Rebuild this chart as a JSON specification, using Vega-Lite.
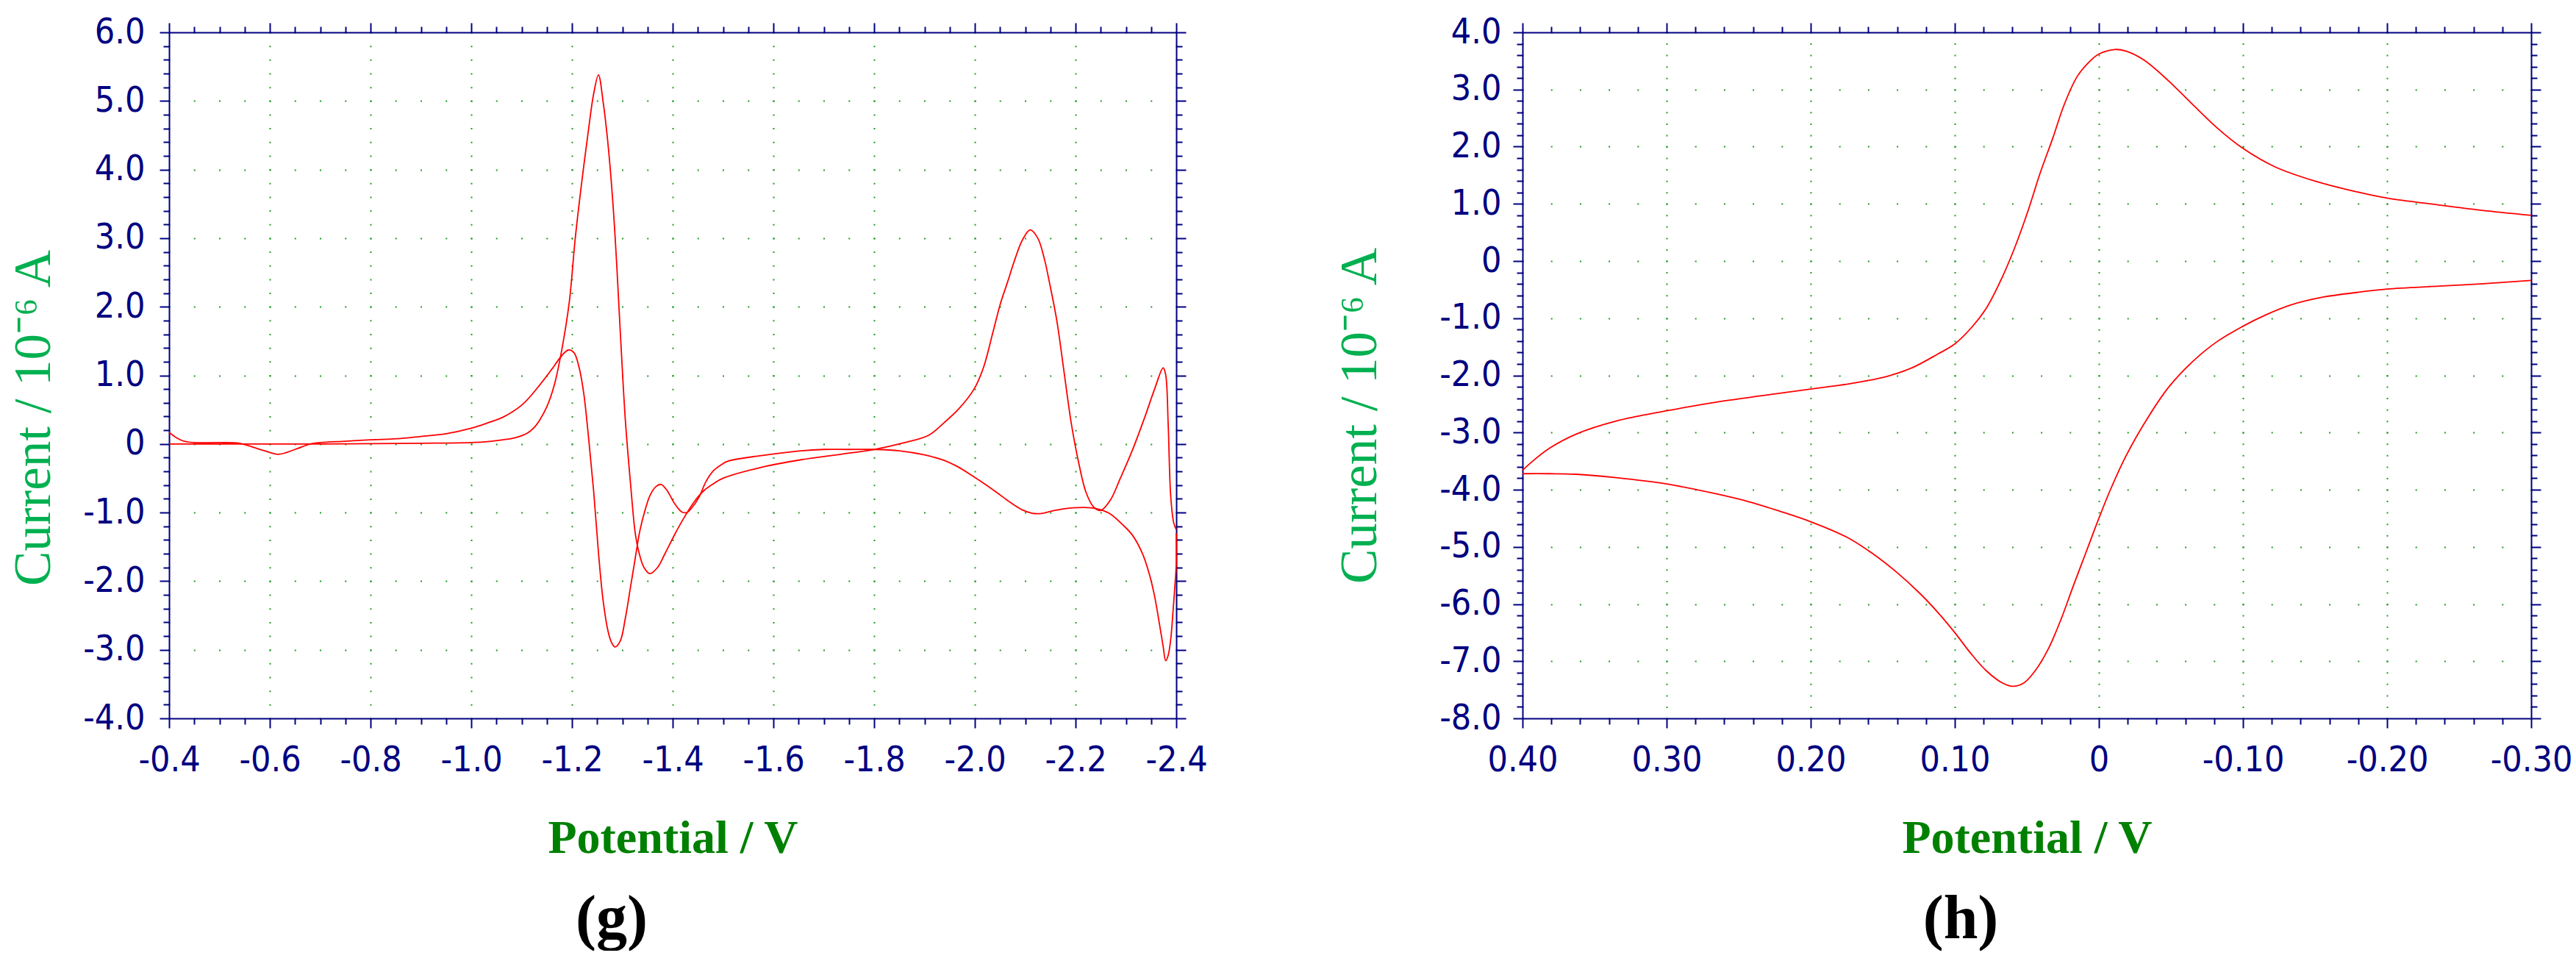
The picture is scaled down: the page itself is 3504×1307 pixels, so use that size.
{
  "$schema": "https://vega.github.io/schema/vega-lite/v6.json",
  "padding": {"left": 10, "top": 20, "right": 0, "bottom": 0},
  "config": {"view": {"stroke": null}, "concat": {"spacing": 171}},
  "datasets": {
    "g": [
      {"sweep":"A","i":1,"E":-0.40,"I":0.0},{"sweep":"A","i":2,"E":-0.50,"I":0.0},{"sweep":"A","i":3,"E":-0.60,"I":0.0},{"sweep":"A","i":4,"E":-0.70,"I":0.0},
      {"sweep":"A","i":5,"E":-0.80,"I":0.005},{"sweep":"A","i":6,"E":-0.90,"I":0.01},{"sweep":"A","i":7,"E":-1.00,"I":0.02},{"sweep":"A","i":8,"E":-1.04,"I":0.04},
      {"sweep":"A","i":9,"E":-1.063,"I":0.06},{"sweep":"A","i":10,"E":-1.087,"I":0.09},{"sweep":"A","i":11,"E":-1.111,"I":0.155},{"sweep":"A","i":12,"E":-1.125,"I":0.24},
      {"sweep":"A","i":13,"E":-1.136,"I":0.35},{"sweep":"A","i":14,"E":-1.150,"I":0.54},{"sweep":"A","i":15,"E":-1.165,"I":0.86},{"sweep":"A","i":16,"E":-1.18,"I":1.38},
      {"sweep":"A","i":17,"E":-1.1949,"I":2.08},{"sweep":"A","i":18,"E":-1.2063,"I":2.98},{"sweep":"A","i":19,"E":-1.2185,"I":3.76},{"sweep":"A","i":20,"E":-1.233,"I":4.59},
      {"sweep":"A","i":21,"E":-1.243,"I":5.1},{"sweep":"A","i":22,"E":-1.2526,"I":5.38},{"sweep":"A","i":23,"E":-1.262,"I":4.98},{"sweep":"A","i":24,"E":-1.272,"I":4.34},
      {"sweep":"A","i":25,"E":-1.282,"I":3.44},{"sweep":"A","i":26,"E":-1.289,"I":2.6},{"sweep":"A","i":27,"E":-1.296,"I":1.63},{"sweep":"A","i":28,"E":-1.306,"I":0.35},
      {"sweep":"A","i":29,"E":-1.316,"I":-0.55},{"sweep":"A","i":30,"E":-1.326,"I":-1.32},{"sweep":"A","i":31,"E":-1.333,"I":-1.58},{"sweep":"A","i":32,"E":-1.343,"I":-1.80},
      {"sweep":"A","i":33,"E":-1.355,"I":-1.89},{"sweep":"A","i":34,"E":-1.37,"I":-1.80},{"sweep":"A","i":35,"E":-1.384,"I":-1.61},{"sweep":"A","i":36,"E":-1.404,"I":-1.32},
      {"sweep":"A","i":37,"E":-1.423,"I":-1.07},{"sweep":"A","i":38,"E":-1.443,"I":-0.84},{"sweep":"A","i":39,"E":-1.462,"I":-0.68},{"sweep":"A","i":40,"E":-1.481,"I":-0.58},
      {"sweep":"A","i":41,"E":-1.50,"I":-0.50},{"sweep":"A","i":42,"E":-1.576,"I":-0.34},{"sweep":"A","i":43,"E":-1.655,"I":-0.23},{"sweep":"A","i":44,"E":-1.734,"I":-0.15},
      {"sweep":"A","i":45,"E":-1.80,"I":-0.08},{"sweep":"A","i":46,"E":-1.861,"I":0.02},{"sweep":"A","i":47,"E":-1.909,"I":0.13},{"sweep":"A","i":48,"E":-1.939,"I":0.31},
      {"sweep":"A","i":49,"E":-1.968,"I":0.51},{"sweep":"A","i":50,"E":-1.9985,"I":0.80},{"sweep":"A","i":51,"E":-2.017,"I":1.11},{"sweep":"A","i":52,"E":-2.036,"I":1.63},
      {"sweep":"A","i":53,"E":-2.051,"I":2.05},{"sweep":"A","i":54,"E":-2.065,"I":2.36},{"sweep":"A","i":55,"E":-2.08,"I":2.7},{"sweep":"A","i":56,"E":-2.095,"I":2.98},
      {"sweep":"A","i":57,"E":-2.11,"I":3.12},{"sweep":"A","i":58,"E":-2.125,"I":3.0},{"sweep":"A","i":59,"E":-2.138,"I":2.7},{"sweep":"A","i":60,"E":-2.148,"I":2.36},
      {"sweep":"A","i":61,"E":-2.163,"I":1.79},{"sweep":"A","i":62,"E":-2.177,"I":1.06},{"sweep":"A","i":63,"E":-2.192,"I":0.28},{"sweep":"A","i":64,"E":-2.207,"I":-0.30},
      {"sweep":"A","i":65,"E":-2.221,"I":-0.71},{"sweep":"A","i":66,"E":-2.236,"I":-0.92},{"sweep":"A","i":67,"E":-2.250,"I":-0.97},{"sweep":"A","i":68,"E":-2.269,"I":-0.82},
      {"sweep":"A","i":69,"E":-2.289,"I":-0.50},{"sweep":"A","i":70,"E":-2.313,"I":-0.09},{"sweep":"A","i":71,"E":-2.337,"I":0.38},{"sweep":"A","i":72,"E":-2.357,"I":0.80},
      {"sweep":"A","i":73,"E":-2.374,"I":1.11},{"sweep":"A","i":74,"E":-2.379,"I":1.01},{"sweep":"A","i":75,"E":-2.384,"I":0.28},{"sweep":"A","i":76,"E":-2.389,"I":-0.76},
      {"sweep":"A","i":77,"E":-2.395,"I":-1.15},{"sweep":"A","i":78,"E":-2.4,"I":-1.25},
      {"sweep":"B","i":1,"E":-2.4,"I":-1.3},{"sweep":"B","i":2,"E":-2.4,"I":-1.75},{"sweep":"B","i":3,"E":-2.397,"I":-2.1},{"sweep":"B","i":4,"E":-2.394,"I":-2.4},
      {"sweep":"B","i":5,"E":-2.389,"I":-2.85},{"sweep":"B","i":6,"E":-2.384,"I":-3.08},{"sweep":"B","i":7,"E":-2.379,"I":-3.16},{"sweep":"B","i":8,"E":-2.374,"I":-2.95},
      {"sweep":"B","i":9,"E":-2.367,"I":-2.64},{"sweep":"B","i":10,"E":-2.357,"I":-2.22},{"sweep":"B","i":11,"E":-2.347,"I":-1.91},{"sweep":"B","i":12,"E":-2.333,"I":-1.60},
      {"sweep":"B","i":13,"E":-2.313,"I":-1.33},{"sweep":"B","i":14,"E":-2.294,"I":-1.18},{"sweep":"B","i":15,"E":-2.269,"I":-1.02},{"sweep":"B","i":16,"E":-2.250,"I":-0.96},
      {"sweep":"B","i":17,"E":-2.231,"I":-0.93},{"sweep":"B","i":18,"E":-2.196,"I":-0.93},{"sweep":"B","i":19,"E":-2.157,"I":-0.97},{"sweep":"B","i":20,"E":-2.135,"I":-1.01},
      {"sweep":"B","i":21,"E":-2.114,"I":-1.01},{"sweep":"B","i":22,"E":-2.094,"I":-0.96},{"sweep":"B","i":23,"E":-2.070,"I":-0.85},{"sweep":"B","i":24,"E":-2.046,"I":-0.72},
      {"sweep":"B","i":25,"E":-2.017,"I":-0.57},{"sweep":"B","i":26,"E":-1.988,"I":-0.43},{"sweep":"B","i":27,"E":-1.963,"I":-0.32},{"sweep":"B","i":28,"E":-1.939,"I":-0.24},
      {"sweep":"B","i":29,"E":-1.90,"I":-0.16},{"sweep":"B","i":30,"E":-1.85,"I":-0.10},{"sweep":"B","i":31,"E":-1.80,"I":-0.08},{"sweep":"B","i":32,"E":-1.75,"I":-0.08},
      {"sweep":"B","i":33,"E":-1.70,"I":-0.08},{"sweep":"B","i":34,"E":-1.655,"I":-0.10},{"sweep":"B","i":35,"E":-1.576,"I":-0.17},{"sweep":"B","i":36,"E":-1.51,"I":-0.25},
      {"sweep":"B","i":37,"E":-1.495,"I":-0.31},{"sweep":"B","i":38,"E":-1.481,"I":-0.39},{"sweep":"B","i":39,"E":-1.466,"I":-0.55},{"sweep":"B","i":40,"E":-1.452,"I":-0.78},
      {"sweep":"B","i":41,"E":-1.437,"I":-0.94},{"sweep":"B","i":42,"E":-1.428,"I":-1.0},{"sweep":"B","i":43,"E":-1.418,"I":-0.99},{"sweep":"B","i":44,"E":-1.404,"I":-0.87},
      {"sweep":"B","i":45,"E":-1.389,"I":-0.68},{"sweep":"B","i":46,"E":-1.377,"I":-0.59},{"sweep":"B","i":47,"E":-1.367,"I":-0.62},{"sweep":"B","i":48,"E":-1.355,"I":-0.75},
      {"sweep":"B","i":49,"E":-1.345,"I":-0.97},{"sweep":"B","i":50,"E":-1.335,"I":-1.26},{"sweep":"B","i":51,"E":-1.326,"I":-1.65},{"sweep":"B","i":52,"E":-1.316,"I":-2.10},
      {"sweep":"B","i":53,"E":-1.306,"I":-2.54},{"sweep":"B","i":54,"E":-1.296,"I":-2.87},{"sweep":"B","i":55,"E":-1.2856,"I":-2.96},{"sweep":"B","i":56,"E":-1.279,"I":-2.9},
      {"sweep":"B","i":57,"E":-1.272,"I":-2.74},{"sweep":"B","i":58,"E":-1.262,"I":-2.29},{"sweep":"B","i":59,"E":-1.2526,"I":-1.58},{"sweep":"B","i":60,"E":-1.243,"I":-0.68},
      {"sweep":"B","i":61,"E":-1.233,"I":0.09},{"sweep":"B","i":62,"E":-1.2234,"I":0.74},{"sweep":"B","i":63,"E":-1.214,"I":1.12},{"sweep":"B","i":64,"E":-1.204,"I":1.33},
      {"sweep":"B","i":65,"E":-1.193,"I":1.37},{"sweep":"B","i":66,"E":-1.185,"I":1.33},{"sweep":"B","i":67,"E":-1.1757,"I":1.25},{"sweep":"B","i":68,"E":-1.160,"I":1.09},
      {"sweep":"B","i":69,"E":-1.136,"I":0.86},{"sweep":"B","i":70,"E":-1.1017,"I":0.575},{"sweep":"B","i":71,"E":-1.063,"I":0.39},{"sweep":"B","i":72,"E":-1.03,"I":0.30},
      {"sweep":"B","i":73,"E":-1.0,"I":0.23},{"sweep":"B","i":74,"E":-0.95,"I":0.15},{"sweep":"B","i":75,"E":-0.90,"I":0.11},{"sweep":"B","i":76,"E":-0.86,"I":0.08},
      {"sweep":"B","i":77,"E":-0.80,"I":0.06},{"sweep":"B","i":78,"E":-0.75,"I":0.04},{"sweep":"B","i":79,"E":-0.70,"I":0.02},{"sweep":"B","i":80,"E":-0.68,"I":0.0},
      {"sweep":"B","i":81,"E":-0.65,"I":-0.08},{"sweep":"B","i":82,"E":-0.617,"I":-0.15},{"sweep":"B","i":83,"E":-0.59,"I":-0.1},{"sweep":"B","i":84,"E":-0.56,"I":-0.03},
      {"sweep":"B","i":85,"E":-0.54,"I":0.01},{"sweep":"B","i":86,"E":-0.50,"I":0.02},{"sweep":"B","i":87,"E":-0.45,"I":0.02},{"sweep":"B","i":88,"E":-0.43,"I":0.04},
      {"sweep":"B","i":89,"E":-0.415,"I":0.09},{"sweep":"B","i":90,"E":-0.40,"I":0.17}
    ],
    "h": [
      {"sweep":"A","i":1,"E":0.40,"I":-3.66},{"sweep":"A","i":2,"E":0.392,"I":-3.48},{"sweep":"A","i":3,"E":0.381,"I":-3.27},{"sweep":"A","i":4,"E":0.363,"I":-3.03},
      {"sweep":"A","i":5,"E":0.335,"I":-2.80},{"sweep":"A","i":6,"E":0.30,"I":-2.62},{"sweep":"A","i":7,"E":0.266,"I":-2.47},{"sweep":"A","i":8,"E":0.232,"I":-2.35},
      {"sweep":"A","i":9,"E":0.20,"I":-2.24},{"sweep":"A","i":10,"E":0.169,"I":-2.13},{"sweep":"A","i":11,"E":0.146,"I":-2.01},{"sweep":"A","i":12,"E":0.129,"I":-1.86},
      {"sweep":"A","i":13,"E":0.112,"I":-1.63},{"sweep":"A","i":14,"E":0.10,"I":-1.45},{"sweep":"A","i":15,"E":0.089,"I":-1.18},{"sweep":"A","i":16,"E":0.078,"I":-0.82},
      {"sweep":"A","i":17,"E":0.067,"I":-0.28},{"sweep":"A","i":18,"E":0.058,"I":0.26},{"sweep":"A","i":19,"E":0.049,"I":0.89},{"sweep":"A","i":20,"E":0.041,"I":1.52},
      {"sweep":"A","i":21,"E":0.032,"I":2.15},{"sweep":"A","i":22,"E":0.024,"I":2.74},{"sweep":"A","i":23,"E":0.015,"I":3.23},{"sweep":"A","i":24,"E":0.006,"I":3.50},
      {"sweep":"A","i":25,"E":0.0,"I":3.62},{"sweep":"A","i":26,"E":-0.011,"I":3.70},{"sweep":"A","i":27,"E":-0.019,"I":3.67},{"sweep":"A","i":28,"E":-0.031,"I":3.52},
      {"sweep":"A","i":29,"E":-0.048,"I":3.16},{"sweep":"A","i":30,"E":-0.065,"I":2.74},{"sweep":"A","i":31,"E":-0.082,"I":2.33},{"sweep":"A","i":32,"E":-0.10,"I":1.97},
      {"sweep":"A","i":33,"E":-0.122,"I":1.65},{"sweep":"A","i":34,"E":-0.151,"I":1.39},{"sweep":"A","i":35,"E":-0.179,"I":1.21},{"sweep":"A","i":36,"E":-0.20,"I":1.10},
      {"sweep":"A","i":37,"E":-0.236,"I":0.98},{"sweep":"A","i":38,"E":-0.265,"I":0.89},{"sweep":"A","i":39,"E":-0.30,"I":0.80},
      {"sweep":"B","i":1,"E":-0.30,"I":-0.34},{"sweep":"B","i":2,"E":-0.265,"I":-0.40},{"sweep":"B","i":3,"E":-0.236,"I":-0.44},{"sweep":"B","i":4,"E":-0.20,"I":-0.49},
      {"sweep":"B","i":5,"E":-0.179,"I":-0.55},{"sweep":"B","i":6,"E":-0.156,"I":-0.63},{"sweep":"B","i":7,"E":-0.133,"I":-0.77},{"sweep":"B","i":8,"E":-0.116,"I":-0.94},
      {"sweep":"B","i":9,"E":-0.10,"I":-1.14},{"sweep":"B","i":10,"E":-0.082,"I":-1.41},{"sweep":"B","i":11,"E":-0.065,"I":-1.76},{"sweep":"B","i":12,"E":-0.048,"I":-2.22},
      {"sweep":"B","i":13,"E":-0.034,"I":-2.74},{"sweep":"B","i":14,"E":-0.019,"I":-3.40},{"sweep":"B","i":15,"E":-0.008,"I":-4.00},{"sweep":"B","i":16,"E":0.0,"I":-4.50},
      {"sweep":"B","i":17,"E":0.009,"I":-5.10},{"sweep":"B","i":18,"E":0.018,"I":-5.70},{"sweep":"B","i":19,"E":0.026,"I":-6.25},{"sweep":"B","i":20,"E":0.035,"I":-6.78},
      {"sweep":"B","i":21,"E":0.044,"I":-7.16},{"sweep":"B","i":22,"E":0.052,"I":-7.38},{"sweep":"B","i":23,"E":0.06,"I":-7.44},{"sweep":"B","i":24,"E":0.067,"I":-7.38},
      {"sweep":"B","i":25,"E":0.078,"I":-7.17},{"sweep":"B","i":26,"E":0.089,"I":-6.86},{"sweep":"B","i":27,"E":0.10,"I":-6.50},{"sweep":"B","i":28,"E":0.112,"I":-6.14},
      {"sweep":"B","i":29,"E":0.124,"I":-5.82},{"sweep":"B","i":30,"E":0.141,"I":-5.43},{"sweep":"B","i":31,"E":0.158,"I":-5.10},{"sweep":"B","i":32,"E":0.175,"I":-4.83},
      {"sweep":"B","i":33,"E":0.20,"I":-4.56},{"sweep":"B","i":34,"E":0.221,"I":-4.38},{"sweep":"B","i":35,"E":0.243,"I":-4.21},{"sweep":"B","i":36,"E":0.266,"I":-4.07},
      {"sweep":"B","i":37,"E":0.30,"I":-3.90},{"sweep":"B","i":38,"E":0.335,"I":-3.79},{"sweep":"B","i":39,"E":0.363,"I":-3.73},{"sweep":"B","i":40,"E":0.381,"I":-3.72},
      {"sweep":"B","i":41,"E":0.40,"I":-3.72}
    ]
  },
  "hconcat": [
    {
      "width": 1370,
      "height": 933,
      "data": {"name": "g"},
      "title": {"text": "(g)", "orient": "bottom", "anchor": "middle", "dx": -83, "offset": 38, "font": "Liberation Serif", "fontSize": 84, "fontWeight": "bold", "color": "#000000"},
      "layer": [
        {
          "mark": {"type": "line", "color": "#ff0000", "strokeWidth": 1.8, "interpolate": "catmull-rom"},
          "encoding": {
            "x": {"field": "E", "type": "quantitative", "scale": {"domain": [-2.4, -0.4], "reverse": true, "nice": false, "zero": false},
              "axis": {"orient": "bottom",
                "values": [-2.4,-2.35,-2.3,-2.25,-2.2,-2.15,-2.1,-2.05,-2.0,-1.95,-1.9,-1.85,-1.8,-1.75,-1.7,-1.65,-1.6,-1.55,-1.5,-1.45,-1.4,-1.35,-1.3,-1.25,-1.2,-1.15,-1.1,-1.05,-1.0,-0.95,-0.9,-0.85,-0.8,-0.75,-0.7,-0.65,-0.6,-0.55,-0.5,-0.45,-0.4],
                "labelExpr": "abs(datum.value*5-round(datum.value*5))<0.001 ? (datum.value<0?'-':'') + format(abs(datum.value),'.1f') : ''",
                "labelFont": "Liberation Sans Narrow, DejaVu Sans Condensed, Liberation Sans", "labelFontSize": 48, "labelColor": "#000080", "labelPadding": 20,
                "labelOverlap": false, "labelFlush": false,
                "tickSize": {"condition": {"test": "abs(datum.value*5-round(datum.value*5))<0.001", "value": 13}, "value": 8},
                "tickColor": "#000080", "tickWidth": 2, "domainColor": "#000080", "domainWidth": 2,
                "grid": true, "gridColor": "#1e9e1e", "gridWidth": 2, "gridDash": [2, 16.66], "gridDashOffset": 1,
                "gridOpacity": {"condition": {"test": "abs(datum.value*5-round(datum.value*5))<0.001", "value": 1}, "value": 0},
                "title": "Potential / V", "titleFont": "Liberation Serif", "titleFontWeight": "bold", "titleFontSize": 64, "titleColor": "#008000", "titlePadding": 50}},
            "y": {"field": "I", "type": "quantitative", "scale": {"domain": [-4, 6], "nice": false, "zero": false},
              "axis": {"orient": "left",
                "values": [-4,-3.8,-3.6,-3.4,-3.2,-3,-2.8,-2.6,-2.4,-2.2,-2,-1.8,-1.6,-1.4,-1.2,-1,-0.8,-0.6,-0.4,-0.2,0,0.2,0.4,0.6,0.8,1,1.2,1.4,1.6,1.8,2,2.2,2.4,2.6,2.8,3,3.2,3.4,3.6,3.8,4,4.2,4.4,4.6,4.8,5,5.2,5.4,5.6,5.8,6],
                "labelExpr": "abs(datum.value-round(datum.value))<0.001 ? (abs(datum.value)<0.001 ? '0' : (datum.value<0?'-':'') + format(abs(datum.value),'.1f')) : ''",
                "labelFont": "Liberation Sans Narrow, DejaVu Sans Condensed, Liberation Sans", "labelFontSize": 48, "labelColor": "#000080", "labelPadding": 20,
                "labelOverlap": false, "labelFlush": false,
                "tickSize": {"condition": {"test": "abs(datum.value-round(datum.value))<0.001", "value": 13}, "value": 8},
                "tickColor": "#000080", "tickWidth": 2, "domainColor": "#000080", "domainWidth": 2,
                "grid": true, "gridColor": "#1e9e1e", "gridWidth": 2, "gridDash": [2, 32.25], "gridDashOffset": 1,
                "gridOpacity": {"condition": {"test": "abs(datum.value-round(datum.value))<0.001", "value": 1}, "value": 0},
                "title": "Current / 10⁻⁶ A", "titleFont": "Liberation Serif", "titleFontWeight": "normal", "titleFontSize": 71, "titleColor": "#00b050", "titlePadding": 30, "titleY": 524}},
            "detail": {"field": "sweep"},
            "order": {"field": "i", "type": "quantitative"}
          }
        },
        {
          "mark": {"type": "line", "opacity": 0},
          "encoding": {
            "x": {"field": "E", "type": "quantitative",
              "axis": {"orient": "top", "labels": false, "title": null, "grid": false,
                "values": [-2.4,-2.35,-2.3,-2.25,-2.2,-2.15,-2.1,-2.05,-2.0,-1.95,-1.9,-1.85,-1.8,-1.75,-1.7,-1.65,-1.6,-1.55,-1.5,-1.45,-1.4,-1.35,-1.3,-1.25,-1.2,-1.15,-1.1,-1.05,-1.0,-0.95,-0.9,-0.85,-0.8,-0.75,-0.7,-0.65,-0.6,-0.55,-0.5,-0.45,-0.4],
                "tickSize": {"condition": {"test": "abs(datum.value*5-round(datum.value*5))<0.001", "value": 13}, "value": 8},
                "tickColor": "#000080", "tickWidth": 2, "domainColor": "#000080", "domainWidth": 2}},
            "y": {"field": "I", "type": "quantitative",
              "axis": {"orient": "right", "labels": false, "title": null, "grid": false,
                "values": [-4,-3.8,-3.6,-3.4,-3.2,-3,-2.8,-2.6,-2.4,-2.2,-2,-1.8,-1.6,-1.4,-1.2,-1,-0.8,-0.6,-0.4,-0.2,0,0.2,0.4,0.6,0.8,1,1.2,1.4,1.6,1.8,2,2.2,2.4,2.6,2.8,3,3.2,3.4,3.6,3.8,4,4.2,4.4,4.6,4.8,5,5.2,5.4,5.6,5.8,6],
                "tickSize": {"condition": {"test": "abs(datum.value-round(datum.value))<0.001", "value": 13}, "value": 8},
                "tickColor": "#000080", "tickWidth": 2, "domainColor": "#000080", "domainWidth": 2}},
            "detail": {"field": "sweep"},
            "order": {"field": "i", "type": "quantitative"}
          }
        }
      ],
      "resolve": {"axis": {"x": "independent", "y": "independent"}}
    },
    {
      "width": 1372,
      "height": 933,
      "data": {"name": "h"},
      "title": {"text": "(h)", "orient": "bottom", "anchor": "middle", "dx": -90, "offset": 38, "font": "Liberation Serif", "fontSize": 84, "fontWeight": "bold", "color": "#000000"},
      "layer": [
        {
          "mark": {"type": "line", "color": "#ff0000", "strokeWidth": 1.8, "interpolate": "catmull-rom"},
          "encoding": {
            "x": {"field": "E", "type": "quantitative", "scale": {"domain": [-0.3, 0.4], "reverse": true, "nice": false, "zero": false},
              "axis": {"orient": "bottom",
                "values": [-0.3,-0.28,-0.26,-0.24,-0.22,-0.2,-0.18,-0.16,-0.14,-0.12,-0.1,-0.08,-0.06,-0.04,-0.02,0,0.02,0.04,0.06,0.08,0.1,0.12,0.14,0.16,0.18,0.2,0.22,0.24,0.26,0.28,0.3,0.32,0.34,0.36,0.38,0.4],
                "labelExpr": "abs(datum.value*10-round(datum.value*10))<0.001 ? (abs(datum.value)<0.001 ? '0' : (datum.value<0?'-':'') + format(abs(datum.value),'.2f')) : ''",
                "labelFont": "Liberation Sans Narrow, DejaVu Sans Condensed, Liberation Sans", "labelFontSize": 48, "labelColor": "#000080", "labelPadding": 20,
                "labelOverlap": false, "labelFlush": false,
                "tickSize": {"condition": {"test": "abs(datum.value*10-round(datum.value*10))<0.001", "value": 13}, "value": 8},
                "tickColor": "#000080", "tickWidth": 2, "domainColor": "#000080", "domainWidth": 2,
                "grid": true, "gridColor": "#1e9e1e", "gridWidth": 2, "gridDash": [2, 13.55], "gridDashOffset": 1,
                "gridOpacity": {"condition": {"test": "abs(datum.value*10-round(datum.value*10))<0.001", "value": 1}, "value": 0},
                "title": "Potential / V", "titleFont": "Liberation Serif", "titleFontWeight": "bold", "titleFontSize": 64, "titleColor": "#008000", "titlePadding": 50}},
            "y": {"field": "I", "type": "quantitative", "scale": {"domain": [-8, 4], "nice": false, "zero": false},
              "axis": {"orient": "left",
                "values": [-8,-7.8,-7.6,-7.4,-7.2,-7,-6.8,-6.6,-6.4,-6.2,-6,-5.8,-5.6,-5.4,-5.2,-5,-4.8,-4.6,-4.4,-4.2,-4,-3.8,-3.6,-3.4,-3.2,-3,-2.8,-2.6,-2.4,-2.2,-2,-1.8,-1.6,-1.4,-1.2,-1,-0.8,-0.6,-0.4,-0.2,0,0.2,0.4,0.6,0.8,1,1.2,1.4,1.6,1.8,2,2.2,2.4,2.6,2.8,3,3.2,3.4,3.6,3.8,4],
                "labelExpr": "abs(datum.value-round(datum.value))<0.001 ? (abs(datum.value)<0.001 ? '0' : (datum.value<0?'-':'') + format(abs(datum.value),'.1f')) : ''",
                "labelFont": "Liberation Sans Narrow, DejaVu Sans Condensed, Liberation Sans", "labelFontSize": 48, "labelColor": "#000080", "labelPadding": 16,
                "labelOverlap": false, "labelFlush": false,
                "tickSize": {"condition": {"test": "abs(datum.value-round(datum.value))<0.001", "value": 13}, "value": 8},
                "tickColor": "#000080", "tickWidth": 2, "domainColor": "#000080", "domainWidth": 2,
                "grid": true, "gridColor": "#1e9e1e", "gridWidth": 2, "gridDash": [2, 37.2], "gridDashOffset": 1,
                "gridOpacity": {"condition": {"test": "abs(datum.value-round(datum.value))<0.001", "value": 1}, "value": 0},
                "title": "Current / 10⁻⁶ A", "titleFont": "Liberation Serif", "titleFontWeight": "normal", "titleFontSize": 71, "titleColor": "#00b050", "titlePadding": 71, "titleY": 521}},
            "detail": {"field": "sweep"},
            "order": {"field": "i", "type": "quantitative"}
          }
        },
        {
          "mark": {"type": "line", "opacity": 0},
          "encoding": {
            "x": {"field": "E", "type": "quantitative",
              "axis": {"orient": "top", "labels": false, "title": null, "grid": false,
                "values": [-0.3,-0.28,-0.26,-0.24,-0.22,-0.2,-0.18,-0.16,-0.14,-0.12,-0.1,-0.08,-0.06,-0.04,-0.02,0,0.02,0.04,0.06,0.08,0.1,0.12,0.14,0.16,0.18,0.2,0.22,0.24,0.26,0.28,0.3,0.32,0.34,0.36,0.38,0.4],
                "tickSize": {"condition": {"test": "abs(datum.value*10-round(datum.value*10))<0.001", "value": 13}, "value": 8},
                "tickColor": "#000080", "tickWidth": 2, "domainColor": "#000080", "domainWidth": 2}},
            "y": {"field": "I", "type": "quantitative",
              "axis": {"orient": "right", "labels": false, "title": null, "grid": false,
                "values": [-8,-7.8,-7.6,-7.4,-7.2,-7,-6.8,-6.6,-6.4,-6.2,-6,-5.8,-5.6,-5.4,-5.2,-5,-4.8,-4.6,-4.4,-4.2,-4,-3.8,-3.6,-3.4,-3.2,-3,-2.8,-2.6,-2.4,-2.2,-2,-1.8,-1.6,-1.4,-1.2,-1,-0.8,-0.6,-0.4,-0.2,0,0.2,0.4,0.6,0.8,1,1.2,1.4,1.6,1.8,2,2.2,2.4,2.6,2.8,3,3.2,3.4,3.6,3.8,4],
                "tickSize": {"condition": {"test": "abs(datum.value-round(datum.value))<0.001", "value": 13}, "value": 8},
                "tickColor": "#000080", "tickWidth": 2, "domainColor": "#000080", "domainWidth": 2}},
            "detail": {"field": "sweep"},
            "order": {"field": "i", "type": "quantitative"}
          }
        }
      ],
      "resolve": {"axis": {"x": "independent", "y": "independent"}}
    }
  ]
}
